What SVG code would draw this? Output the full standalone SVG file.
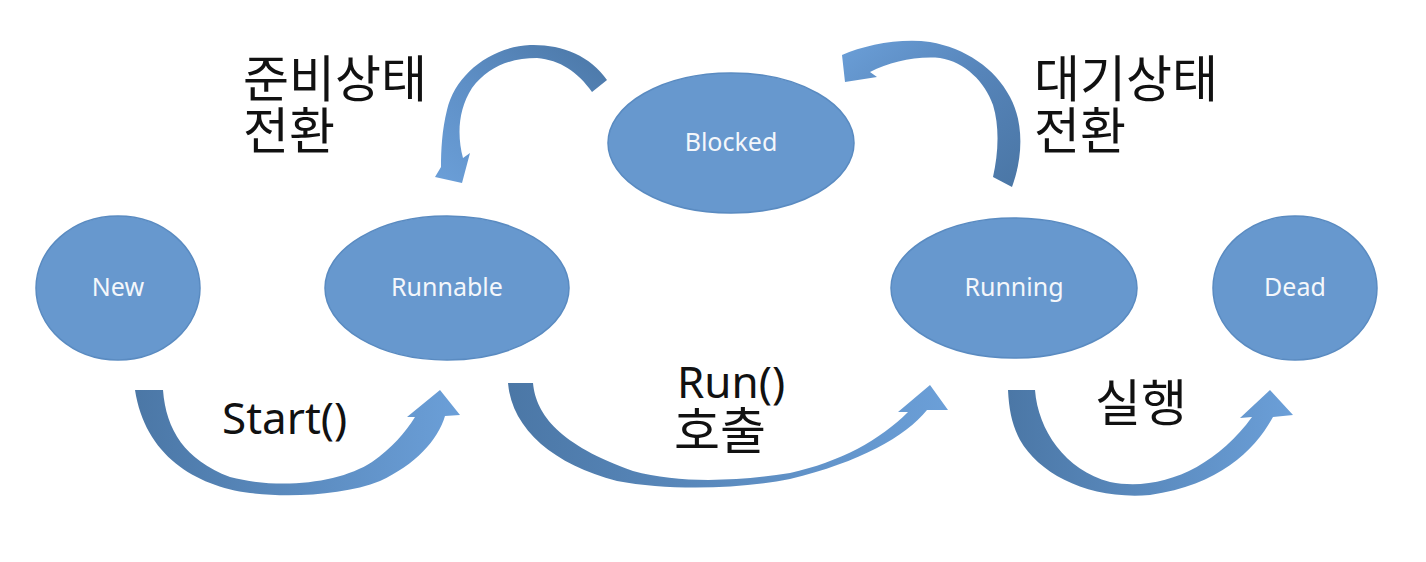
<svg xmlns="http://www.w3.org/2000/svg" width="1426" height="562" viewBox="0 0 1426 562">
<style>
.node{fill:#6798ce;stroke:#5a8bc1;stroke-width:1.5}
.nt{font-family:"Noto Sans","Open Sans",sans-serif;font-size:25px;fill:#f4f7fb;text-anchor:middle}
.lbl{font-family:"Noto Sans","Noto Sans CJK KR",sans-serif;font-size:44px;fill:#111}
.kr{font-family:"Noto Sans CJK KR","Noto Sans",sans-serif;font-size:50px;fill:#111}
</style>
<defs>
<linearGradient id="gB" x1="0" y1="0" x2="1" y2="0">
<stop offset="0" stop-color="#4b77a6"/><stop offset="1" stop-color="#6b9fd8"/>
</linearGradient>
<linearGradient id="gTL" x1="1" y1="0" x2="0" y2="1">
<stop offset="0" stop-color="#4a76a5"/><stop offset="0.55" stop-color="#5e8fc6"/><stop offset="1" stop-color="#6b9fd8"/>
</linearGradient>
<linearGradient id="gTR" x1="1" y1="1" x2="0" y2="0">
<stop offset="0" stop-color="#4a76a5"/><stop offset="0.5" stop-color="#5684b9"/><stop offset="1" stop-color="#6b9fd8"/>
</linearGradient>
</defs>
<rect width="1426" height="562" fill="#ffffff"/>
<g id="connectors">
<path id="c-start" fill="url(#gB)" d="M135,390 L163,390 C166,430 185,460 230,477 C280,490 340,483 372,462 C392,448 405,433 415,417 L407,417 L440,390 L460,415 L445,416 C438,440 415,465 380,481 C345,495 290,498 250,493 C195,486 145,455 135,390 Z"/>
<path id="c-run" fill="url(#gB)" d="M508,383 L533,383 C536,415 560,445 633,471 C680,484 740,481 790,473 C840,462 880,440 908,412 L898,412 L930,385 L948,410 L927,410 C905,437 860,462 790,479 C740,489 670,491 617,481 C555,465 512,430 508,383 Z"/>
<path id="c-exec" fill="url(#gB)" d="M1008,390 L1035,390 C1038,430 1065,470 1110,482 C1160,492 1215,468 1252,417 L1240,418 L1270,390 L1293,415 L1273,417 C1255,450 1220,485 1150,495 C1090,500 1040,475 1020,440 C1012,425 1009,410 1008,390 Z"/>
<path id="c-ready" fill="url(#gTL)" d="M607,80 C590,55 560,44 530,45 C490,47 455,75 447,110 C442,130 441,150 441,167 L435,177 L462,183 L470,153 L463,158 C457,135 458,110 472,88 C488,67 510,58 537,58 C560,60 578,72 592,92 Z"/>
<path id="c-wait" fill="url(#gTR)" d="M1012,187 C1022,160 1025,125 1010,97 C995,68 965,48 930,42 C900,38 865,45 842,55 L845,82 L877,77 L870,72 C890,62 915,56 940,58 C965,62 985,82 993,105 C1000,128 998,155 993,177 Z"/>
</g>
<g id="labels">
<text class="kr"><tspan x="243" y="97">준비상태</tspan><tspan x="243" y="149">전환</tspan></text>
<text class="kr"><tspan x="1034" y="97">대기상태</tspan><tspan x="1034" y="149">전환</tspan></text>
<text class="lbl" x="222" y="434">Start()</text>
<text class="lbl"><tspan x="677" y="398">Run()</tspan><tspan class="kr" x="674" y="449">호출</tspan></text>
<text class="kr" x="1095" y="421">실행</text>
</g>
<g id="node-new"><ellipse class="node" cx="118" cy="288" rx="82" ry="72"/><text class="nt" x="118" y="296">New</text></g>
<g id="node-runnable"><ellipse class="node" cx="447" cy="288" rx="122" ry="72"/><text class="nt" x="447" y="296">Runnable</text></g>
<g id="node-blocked"><ellipse class="node" cx="731" cy="143" rx="123" ry="70"/><text class="nt" x="731" y="151">Blocked</text></g>
<g id="node-running"><ellipse class="node" cx="1014" cy="288" rx="123" ry="70"/><text class="nt" x="1014" y="296">Running</text></g>
<g id="node-dead"><ellipse class="node" cx="1295" cy="288" rx="82" ry="72"/><text class="nt" x="1295" y="296">Dead</text></g>
</svg>
